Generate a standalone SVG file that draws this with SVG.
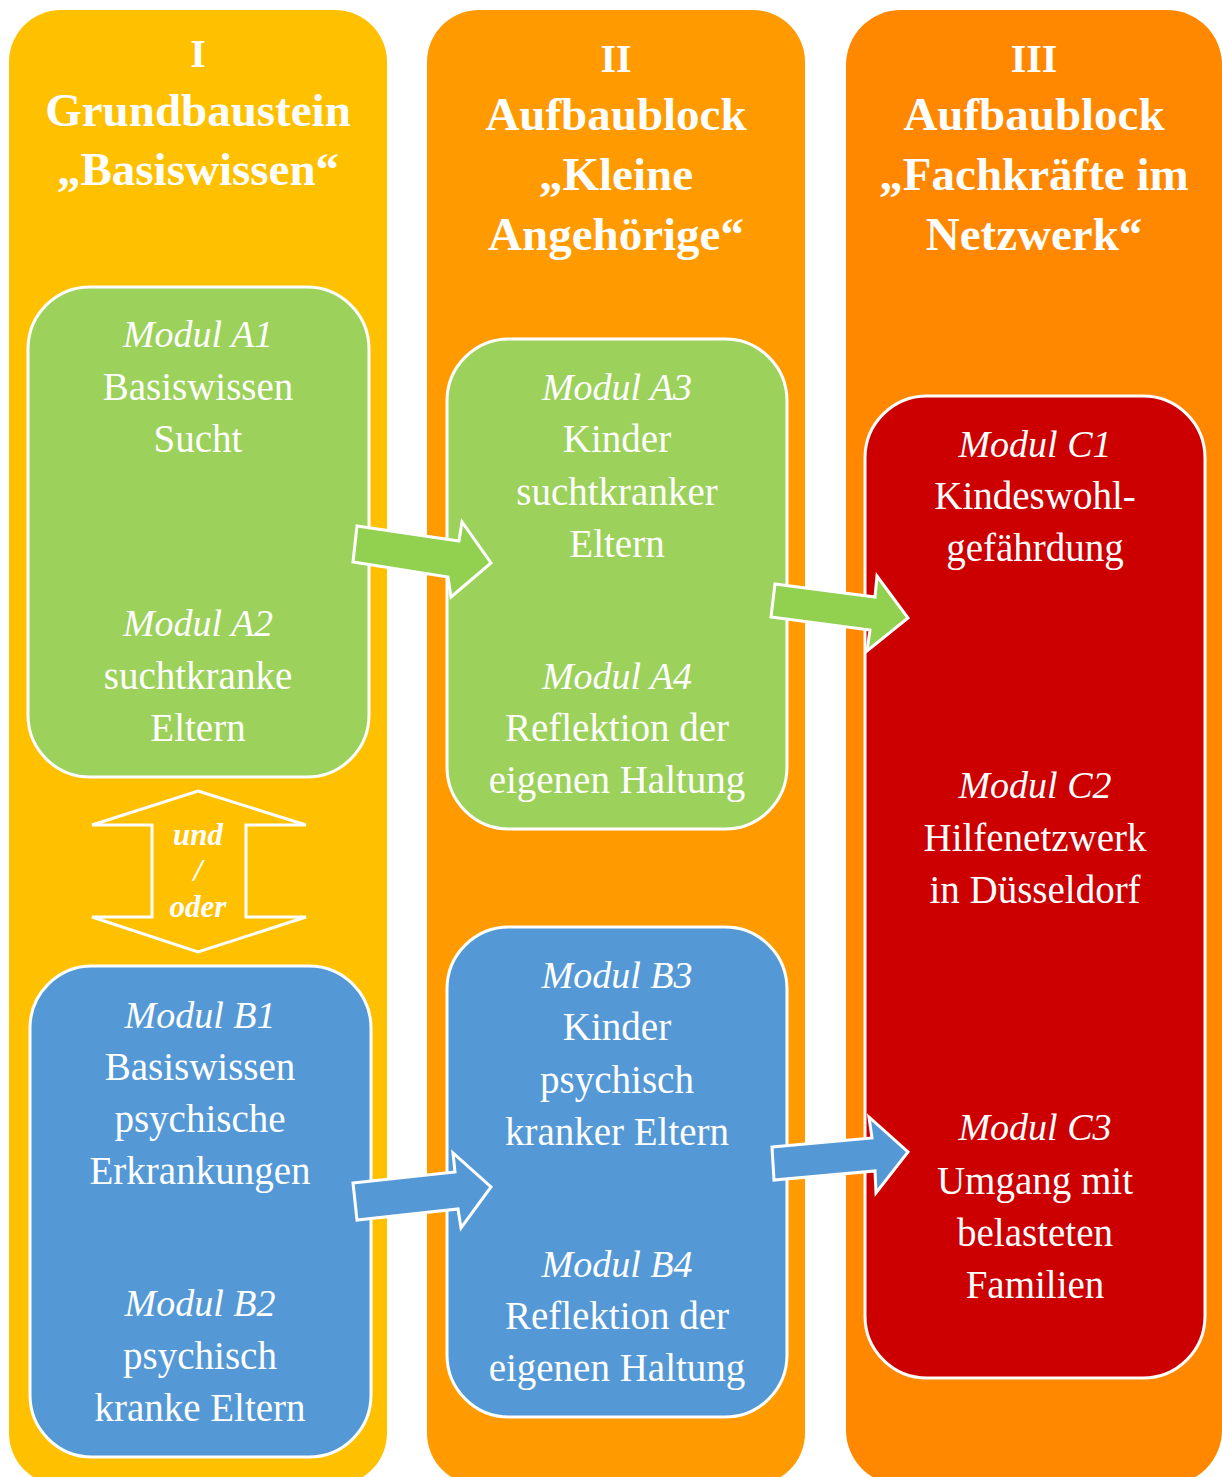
<svg xmlns="http://www.w3.org/2000/svg" width="1222" height="1477" viewBox="0 0 1222 1477">
<style>
.col{stroke:none}
.box{stroke:#fff;stroke-width:3}
.g{fill:#9CD25B}
.b{fill:#5499D6}
.r{fill:#CC0000}
.arr{stroke:#fff;stroke-width:3;stroke-linejoin:miter}
text{font-family:"Liberation Serif","DejaVu Serif",serif;fill:#fff;text-anchor:middle}
.t{font-weight:bold;font-size:47px}
.n{font-weight:bold;font-size:40px}
.m{font-style:italic;font-size:38px}
.x{font-size:39px}
.u{font-weight:bold;font-style:italic;font-size:31px}
</style>
<rect width="1222" height="1477" fill="#fff"/>
<g id="column-I">
<rect class="col" x="9" y="10" width="378" height="1475" rx="52" fill="#FFC000"/>
<text class="n" x="198" y="67">I</text>
<text class="t" x="198" y="126">Grundbaustein</text>
<text class="t" x="198" y="185">„Basiswissen“</text>
</g>
<g id="column-II">
<rect class="col" x="427" y="10" width="378" height="1475" rx="52" fill="#FF9A00"/>
<text class="n" x="616" y="72">II</text>
<text class="t" x="616" y="130">Aufbaublock</text>
<text class="t" x="616" y="190">„Kleine</text>
<text class="t" x="616" y="250">Angehörige“</text>
</g>
<g id="column-III">
<rect class="col" x="846" y="10" width="376" height="1475" rx="55" fill="#FF8800"/>
<text class="n" x="1034" y="72">III</text>
<text class="t" x="1034" y="130">Aufbaublock</text>
<text class="t" x="1034" y="190">„Fachkräfte im</text>
<text class="t" x="1034" y="250">Netzwerk“</text>
</g>
<g id="module-A1-A2">
<rect class="box g" x="28" y="287" width="341" height="490" rx="62"/>
<text class="m" x="198" y="347">Modul A1</text>
<text class="x" x="198" y="400">Basiswissen</text>
<text class="x" x="198" y="452">Sucht</text>
<text class="m" x="198" y="636">Modul A2</text>
<text class="x" x="198" y="689">suchtkranke</text>
<text class="x" x="198" y="741">Eltern</text>
</g>
<g id="module-B1-B2">
<rect class="box b" x="30" y="966" width="341" height="491" rx="62"/>
<text class="m" x="200" y="1028">Modul B1</text>
<text class="x" x="200" y="1080">Basiswissen</text>
<text class="x" x="200" y="1132">psychische</text>
<text class="x" x="200" y="1184">Erkrankungen</text>
<text class="m" x="200" y="1316">Modul B2</text>
<text class="x" x="200" y="1369">psychisch</text>
<text class="x" x="200" y="1421">kranke Eltern</text>
</g>
<g id="module-A3-A4">
<rect class="box g" x="447" y="339" width="340" height="490" rx="62"/>
<text class="m" x="617" y="400">Modul A3</text>
<text class="x" x="617" y="452">Kinder</text>
<text class="x" x="617" y="505">suchtkranker</text>
<text class="x" x="617" y="557">Eltern</text>
<text class="m" x="617" y="689">Modul A4</text>
<text class="x" x="617" y="741">Reflektion der</text>
<text class="x" x="617" y="793">eigenen Haltung</text>
</g>
<g id="module-B3-B4">
<rect class="box b" x="447" y="927" width="340" height="490" rx="62"/>
<text class="m" x="617" y="988">Modul B3</text>
<text class="x" x="617" y="1040">Kinder</text>
<text class="x" x="617" y="1093">psychisch</text>
<text class="x" x="617" y="1145">kranker Eltern</text>
<text class="m" x="617" y="1277">Modul B4</text>
<text class="x" x="617" y="1329">Reflektion der</text>
<text class="x" x="617" y="1381">eigenen Haltung</text>
</g>
<g id="module-C1-C3">
<rect class="box r" x="865" y="396" width="340" height="982" rx="62"/>
<text class="m" x="1035" y="457">Modul C1</text>
<text class="x" x="1035" y="509">Kindeswohl-</text>
<text class="x" x="1035" y="561">gefährdung</text>
<text class="m" x="1035" y="798">Modul C2</text>
<text class="x" x="1035" y="851">Hilfenetzwerk</text>
<text class="x" x="1035" y="903">in Düsseldorf</text>
<text class="m" x="1035" y="1140">Modul C3</text>
<text class="x" x="1035" y="1194">Umgang mit</text>
<text class="x" x="1035" y="1246">belasteten</text>
<text class="x" x="1035" y="1298">Familien</text>
</g>
<g id="connectors">
<polygon class="arr" fill="#92D050" points="357,526 459,541 462,522 491,563 451,597 448,577 353,562"/>
<polygon class="arr" fill="#92D050" points="775,584 875,597 877,576 908,618 867,651 870,630 771,617"/>
<polygon class="arr" fill="#5499D6" points="353,1183 455,1172 453,1153 491,1187 461,1228 458,1209 357,1220"/>
<polygon class="arr" fill="#5499D6" points="772,1147 872,1138 869,1117 908,1152 876,1193 875,1171 774,1180"/>
<polygon class="arr" fill="#FFC000" points="198,791 306,825 246,825 246,917 306,917 198,952 92,917 152,917 152,825 92,825"/>
<text class="u" x="198" y="845">und</text>
<text class="u" x="198" y="881">/</text>
<text class="u" x="198" y="917">oder</text>
</g>
</svg>
